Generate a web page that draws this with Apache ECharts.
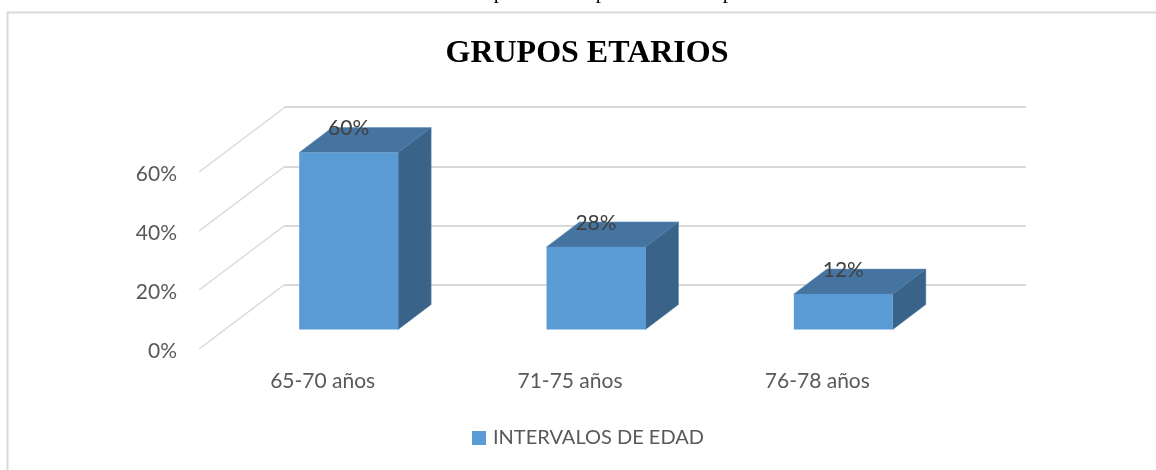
<!DOCTYPE html>
<html>
<head>
<meta charset="utf-8">
<style>
  html, body { margin: 0; padding: 0; background: #fff; }
  #chart { width: 1156px; height: 470px; }
</style>
<script src="https://cdn.jsdelivr.net/npm/echarts@6/dist/echarts.min.js"></script>
</head>
<body>
<div id="chart"></div>
<script>
var categories = ['65-70 años', '71-75 años', '76-78 años'];
var values = [60, 28, 12];
var yTicks = [0, 20, 40, 60];
var seriesName = 'INTERVALOS DE EDAD';
var chartTitle = 'GRUPOS ETARIOS';

var myChart = echarts.init(document.getElementById('chart'));

// depth of the fake 3d floor, px
var floorDx = 85, floorDy = 64;
// bar sits inside the floor depth
var barOffX = 26, barOffY = 19.5, barDx = 33, barDy = 25;

function renderBar(params, api) {
  var i = api.value(0);
  var base = api.coord([i, 0]);
  var top = api.coord([i, api.value(1)]);
  var w = api.size([1, 0])[0] * 0.4;
  var x0 = base[0] + barOffX - w / 2, x1 = x0 + w;
  var y0 = base[1] - barOffY, y1 = top[1] - barOffY;
  return {
    type: 'group',
    children: [
      { type: 'polygon', shape: { points: [[x0, y1], [x0 + barDx, y1 - barDy], [x1 + barDx, y1 - barDy], [x1, y1]] },
        style: { fill: '#44749f', stroke: '#5a8cb9', lineWidth: 0.5 } },
      { type: 'polygon', shape: { points: [[x1, y0], [x1, y1], [x1 + barDx, y1 - barDy], [x1 + barDx, y0 - barDy]] },
        style: { fill: '#396388', stroke: '#4f7da6', lineWidth: 0.5 } },
      { type: 'rect', shape: { x: x0, y: y1, width: w, height: y0 - y1 },
        style: { fill: '#5b9bd5' } },
      { type: 'text', style: { text: api.value(1) + '%', x: x0 + w / 2, y: y1 - barDy + 1, align: 'center', verticalAlign: 'middle',
        fill: '#404040', font: '21px Lato' }, z2: 10 }
    ]
  };
}

function renderDiagonal(params, api) {
  var y = api.coord([0, api.value(1)])[1];
  var x = params.coordSys.x;
  return {
    type: 'line',
    shape: { x1: x, y1: y, x2: x + floorDx, y2: y - floorDy },
    style: { stroke: '#d9d9d9', lineWidth: 1.5 }
  };
}

// cut off line of the document text above the chart
function cutText(x) {
  return { type: 'text', silent: true, x: x, y: 3, style: { text: 'p', align: 'center', verticalAlign: 'bottom',
    fill: '#000', font: '21px "Liberation Serif"' } };
}

var option = {
  animation: false,
  backgroundColor: '#fff',
  title: {
    text: chartTitle,
    left: 582, top: 33, textAlign: 'center',
    textStyle: { fontFamily: 'Liberation Serif', fontWeight: 'bold', fontSize: 32, color: '#000' }
  },
  legend: {
    left: 467, top: 423,
    icon: 'rect', itemWidth: 14, itemHeight: 14,
    data: [seriesName],
    textStyle: { fontFamily: 'Lato', fontSize: 20, color: '#595959', padding: [0, 0, 0, 2] }
  },
  grid: [
    { left: 199, top: 172, width: 742, height: 177 },
    { left: 284, top: 107, width: 742, height: 178 }
  ],
  xAxis: [
    { type: 'category', gridIndex: 0, data: categories,
      axisLine: { show: false }, axisTick: { show: false },
      axisLabel: { fontFamily: 'Lato', fontSize: 21, color: '#595959', margin: 22 } },
    { type: 'category', gridIndex: 1, data: categories, show: false }
  ],
  yAxis: [
    { type: 'value', gridIndex: 0, min: 0, max: 60, interval: 20,
      axisLine: { show: false }, axisTick: { show: false }, splitLine: { show: false },
      axisLabel: { formatter: '{a|{value}%}', margin: 22,
        rich: { a: { fontFamily: 'Lato', fontSize: 21, color: '#595959', padding: [5, 0, 0, 0] } } } },
    { type: 'value', gridIndex: 1, min: 0, max: 60, interval: 20,
      axisLine: { show: false }, axisTick: { show: false }, axisLabel: { show: false },
      splitLine: { show: true, lineStyle: { color: '#d9d9d9', width: 2 } } }
  ],
  series: [
    { type: 'custom', xAxisIndex: 0, yAxisIndex: 0, silent: true, z: 1,
      renderItem: renderDiagonal,
      data: yTicks.map(function (t) { return [0, t]; }) },
    { type: 'custom', name: seriesName, xAxisIndex: 0, yAxisIndex: 0, z: 5,
      itemStyle: { color: '#5b9bd5' },
      renderItem: renderBar,
      data: values.map(function (v, i) { return [i, v]; }) }
  ],
  graphic: [
    { type: 'polyline', silent: true, shape: { points: [[1156, 12.5], [7.5, 12.5], [7.5, 470]] },
      style: { stroke: '#d9d9d9', lineWidth: 2, fill: 'none' } },
    cutText(499), cutText(601), cutText(728)
  ]
};
myChart.setOption(option);
</script>
</body>
</html>
